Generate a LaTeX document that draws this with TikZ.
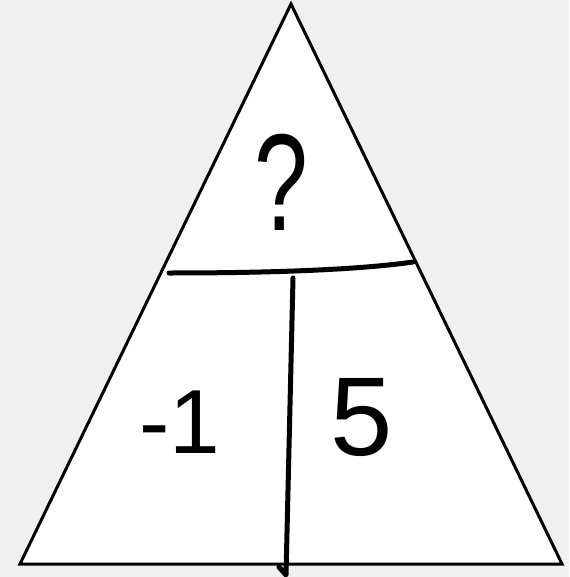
\documentclass[tikz,border=0pt]{standalone}
\usepackage{fontspec}
\setmainfont{Liberation Sans}
\begin{document}
\begin{tikzpicture}[x=1pt,y=-1pt,
  tri/.style={draw=black,fill=white,line width=3pt,line join=miter},
  pen/.style={draw=black,line width=5pt,line cap=round,line join=round},
  hand/.style={inner sep=0pt,outer sep=0pt,text=black,anchor=base}]
\useasboundingbox (0,0) rectangle (569,577);
\fill[fill={rgb,255:red,240;green,240;blue,240}] (0,0) rectangle (569,577);
\coordinate (apex) at (291,4);
\coordinate (bl) at (20,564);
\coordinate (br) at (562,564);
\filldraw[tri] (apex) -- (bl) -- (br) -- cycle;
\coordinate (hl) at (169,273);
\coordinate (hr) at (413,262);
\draw[pen] (hl) .. controls (250,273) and (350,271) .. (hr);
\coordinate (vt) at (293,278);
\coordinate (vb) at (286,575);
\coordinate (tick) at (279,567);
\draw[pen] (vt) -- (vb) -- (tick);
\node[hand,font=\fontsize{138}{138}\selectfont,xscale=0.7] (q) at (281,230) {?};
\node[hand,font=\fontsize{91}{91}\selectfont] (m1) at (180,453) {-1};
\node[hand,font=\fontsize{112}{112}\selectfont] (five) at (362,455) {5};
\end{tikzpicture}
\end{document}
